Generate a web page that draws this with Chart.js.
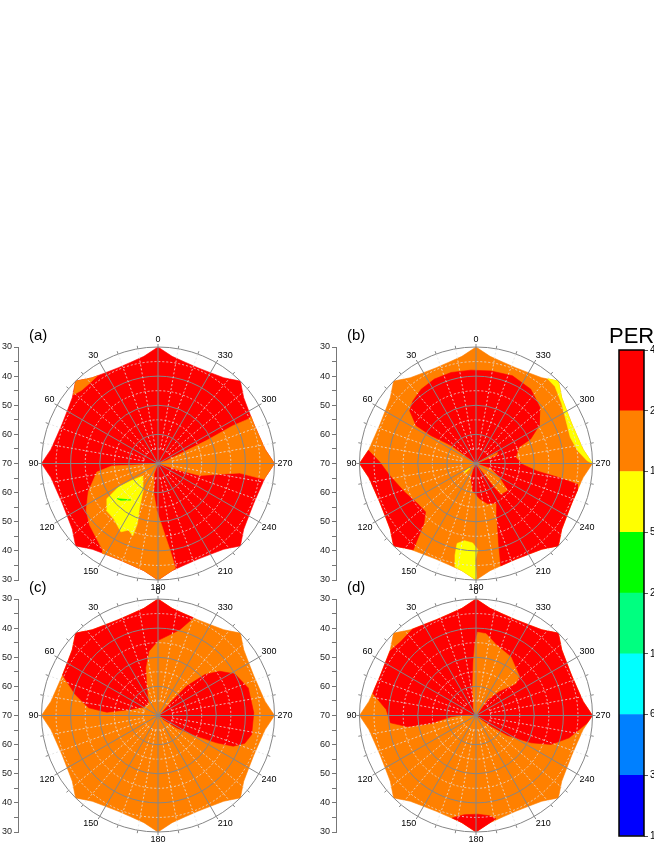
<!DOCTYPE html>
<html>
<head>
<meta charset="utf-8">
<script src="https://cdn.jsdelivr.net/npm/chart.js@4.4.1/dist/chart.umd.min.js"></script>
<style>
  html, body { margin: 0; padding: 0; background: #fff; overflow: hidden; }
  body { width: 654px; height: 846px; position: relative; }
  canvas { position: absolute; }
</style>
</head>
<body>
<canvas id="panelA" width="298" height="282" style="left:0px;top:318px"></canvas>
<canvas id="panelB" width="298" height="282" style="left:318px;top:318px"></canvas>
<canvas id="panelC" width="298" height="282" style="left:0px;top:570px"></canvas>
<canvas id="panelD" width="298" height="282" style="left:318px;top:570px"></canvas>
<canvas id="colorBar" width="84" height="530" style="left:600px;top:316px"></canvas>
<script>
// colour levels, top of the colour bar first
var levelNames = ['red', 'orange', 'yellow', 'green', 'spring', 'cyan', 'azure', 'blue'];
var levelColors = ['#ff0000', '#ff8000', '#ffff00', '#00ff00', '#00ff80', '#00ffff', '#0080ff', '#0000ff'];
var levelTicks = ['400', '200', '100', '50', '25', '12.5', '6.25', '3.125', '1.5625'];

// polar axis: elevation 70 at the centre, 30 on the rim
var R_CENTER = 70, R_EDGE = 30;
var ringValues = [65, 55, 45, 35, 60, 50, 40, 30];
var spokeAngles = [0, 10, 20, 30, 40, 50, 60, 70, 80, 90, 100, 110, 120, 130, 140, 150, 160, 170,
  180, 190, 200, 210, 220, 230, 240, 250, 260, 270, 280, 290, 300, 310, 320, 330, 340, 350];
var angleLabels = [0, 30, 60, 90, 120, 150, 180, 210, 240, 270, 300, 330];

// outer edge of the data (azimuth, elevation)
var domainEdge = [
  [0, 30], [7.5, 32.9], [15, 34], [22.5, 34.4], [30, 34], [37.5, 32.9],
  [45, 30], [52.5, 32.9], [60, 34], [67.5, 34.4], [75, 34], [82.5, 32.9],
  [90, 30], [97.5, 32.9], [105, 34], [112.5, 34.4], [120, 34], [127.5, 32.9],
  [135, 30], [142.5, 32.9], [150, 34], [157.5, 34.4], [165, 34], [172.5, 32.9],
  [180, 30], [187.5, 32.9], [195, 34], [202.5, 34.4], [210, 34], [217.5, 32.9],
  [225, 30], [232.5, 32.9], [240, 34], [247.5, 34.4], [255, 34], [262.5, 32.9],
  [270, 30], [277.5, 32.9], [285, 34], [292.5, 34.4], [300, 34], [307.5, 32.9],
  [315, 30], [322.5, 32.9], [330, 34], [337.5, 34.4], [345, 34], [352.5, 32.9]
];

// (a)
var aOrangeNW = [[45, 30], [37.5, 32.9], [34.5, 33.4], [40, 33.8], [46, 33.7], [51, 32.6]];
var aOrangeE = [[0, 70], [289, 66.9], [293.7, 61.8], [295.1, 54.1], [295.3, 51.6], [296.8, 41.2], [296.2, 35.3], [297, 34.2],
  [292.5, 34.4], [285, 34], [277.5, 32.9], [270, 30], [262.5, 32.9], [261.5, 33.2],
  [263.3, 41.8], [259.4, 49.6], [254.1, 55.1], [252.4, 62.1]];
var aOrangeSW = [[0, 70], [95, 66.1], [93, 54.1], [98, 48.8], [112, 44.2], [123, 40.6], [132, 38.4], [147.4, 34.7],
  [148.5, 33.7], [150, 34], [157.5, 34.4], [165, 34], [172.5, 32.9], [180, 30], [187.5, 32.9], [189.5, 33.5],
  [187.9, 40], [184.6, 47], [178.4, 53.9], [170.2, 60.6], [158.8, 66.2]];
var aYellow = [[124.5, 48.7], [120.8, 54.2], [122.8, 59.3], [128.9, 63.1], [151.9, 58.9], [157.6, 53.2],
  [161.1, 48.2], [160.8, 43.7], [156.1, 45], [151.5, 43.3], [141.1, 45.7], [132.1, 46]];
var aGreen = [[130.7, 51.5], [143.3, 54.4], [134.5, 52]];

// (b)
var bRedW = [[83, 32.8], [90, 30], [97.5, 32.9], [105, 34], [112.5, 34.4], [120, 34], [127.5, 32.9], [135, 30],
  [142.5, 32.9], [144, 33.4], [142.5, 36.8], [139.1, 42.7], [133.8, 46], [124.7, 45.7], [111.8, 43.6],
  [97.9, 40.1], [89.2, 37]];
var bRedMain = [[0, 70], [52.8, 66.4], [54.2, 59.5], [58.1, 51.9], [57.7, 45.7], [51.5, 40.9], [45.2, 39.5],
  [36.4, 38.3], [26.2, 37.7], [15.3, 37.6], [3.1, 37.9], [350.8, 37.8], [337.4, 37.4], [323.6, 38.3],
  [311.2, 40.8], [301, 44.7], [294.2, 49.4], [290.7, 54.2], [279, 56.2], [268.8, 54], [262.9, 48.8],
  [260.5, 41.7], [258.5, 34.4], [255, 34], [247.5, 34.4], [240, 34], [232.5, 32.9], [225, 30],
  [217.5, 32.9], [210, 34], [202.5, 34.4], [195, 34], [193.6, 33.8], [195.8, 41.5], [201.4, 50.3],
  [207.5, 54.7], [196.1, 55.6], [185.4, 57.9], [173, 60.7], [162, 64.5], [156.4, 68]];
var bOrangeNotch = [[0, 70], [250.4, 64.6], [239.6, 60.8], [229.5, 55.8], [218.9, 56.4], [217.8, 59.8], [218.9, 65.5]];
var bOrangeWedge = [[0, 70], [297, 61.7], [292.5, 62.3]];
var bYellowE = [[320, 31.9], [315, 30], [307.5, 32.9], [300, 34], [292.5, 34.4], [285, 34], [277.5, 32.9], [270, 30],
  [271.5, 31.9], [277.2, 34.8], [285.5, 36.4], [295.1, 35.8], [305, 34.1], [314.3, 32.1]];
var bYellowS = [[168.4, 33.8], [167.1, 37.7], [166.7, 41.8], [171.5, 43.2], [177.6, 42.7], [181.1, 40.5],
  [179.6, 36.8], [180.3, 31], [180, 30], [172.5, 32.9]];
var bYellowFleck = [[126, 65], [123, 67.3], [128, 67.4], [131, 65.3]];

// (c)
var cRedNW = [[0, 30], [7.5, 32.9], [15, 34], [22.5, 34.4], [30, 34], [37.5, 32.9], [45, 30], [52.5, 32.9],
  [60, 34], [67, 34.4], [75.8, 40.7], [83.7, 46], [86.3, 52.4], [77.9, 60.2], [60.4, 64.2], [38.9, 64.7],
  [21.1, 59.2], [14.5, 53.1], [8, 47.7], [359.7, 44.2], [345.7, 39.6], [340, 34.3], [345, 34], [352.5, 32.9]];
var cRedE = [[270, 69.5], [316.4, 63.2], [315.7, 55.9], [311.1, 48.6], [305.6, 43.9], [298.4, 40], [287, 37.6],
  [271.6, 37.1], [258.5, 37.2], [252.2, 38.7], [247.8, 42.1], [245, 47.8], [241.9, 55], [236.5, 62.3], [233.1, 67.7]];

// (d)
var dRed = [[0, 70], [83.2, 67.1], [93.1, 61.4], [100.1, 54.3], [99.4, 46.3], [94.9, 40.5], [86.2, 39.1], [78, 33.8],
  [75, 34], [67.5, 34.4], [60, 34], [53, 33.1], [45.5, 33.8], [36.5, 33.2], [30, 34], [22.5, 34.4],
  [15, 34], [7.5, 32.9], [0, 30], [352.5, 32.9], [345, 34], [337.5, 34.4], [330, 34], [322.5, 32.9], [315, 30],
  [307.5, 32.9], [300, 34], [292.5, 34.4], [285, 34], [277.5, 32.9], [270, 30], [266, 31.8], [256.5, 37.1],
  [248.9, 42.4], [243.6, 48.9], [237.7, 57.2], [234.6, 63.7]];
var dOrangeTongue = [[0, 70], [28.3, 68.3], [7.3, 61], [2.9, 51.9], [0.8, 45.1], [358.9, 41.4], [353, 41.7],
  [344.3, 44.7], [329.2, 46.6], [312.2, 49.9], [308.7, 52.4], [316.2, 58.4], [323.9, 63.2], [322.4, 68.1]];
var dRedS = [[167, 33.9], [173.3, 35.7], [181, 36.1], [187.5, 35.3], [191, 33.9], [187.5, 32.9], [180, 30], [172.5, 32.9]];

var layersA = [['red', domainEdge], ['orange', aOrangeNW], ['orange', aOrangeE], ['orange', aOrangeSW],
  ['yellow', aYellow], ['green', aGreen]];
var layersB = [['orange', domainEdge], ['red', bRedW], ['red', bRedMain], ['orange', bOrangeNotch],
  ['orange', bOrangeWedge], ['yellow', bYellowE], ['yellow', bYellowS], ['yellow', bYellowFleck]];
var layersC = [['orange', domainEdge], ['red', cRedNW], ['red', cRedE]];
var layersD = [['orange', domainEdge], ['red', dRed], ['orange', dOrangeTongue], ['red', dRedS]];

// layout
var FONT = '"Liberation Sans", Arial, Helvetica, sans-serif';
var AXIS_W = 18, PLOT_W = 280, PLOT_H = 233;
var HALF_X = (R_CENTER - R_EDGE) * PLOT_W / PLOT_H;
var GRID_DARK = '#868686', GRID_LIGHT = '#e2e2e2';

function colorOf(name) {
  return levelColors[levelNames.indexOf(name)];
}

function toXY(p) {
  var a = p[0] * Math.PI / 180, r = R_CENTER - p[1];
  return { x: -r * Math.sin(a), y: r * Math.cos(a) };
}

var polarGrid = {
  id: 'polarGrid',
  afterDatasetsDraw: function (chart) {
    var ctx = chart.ctx, sx = chart.scales.x, sy = chart.scales.y;
    var cx = sx.getPixelForValue(0), cy = sy.getPixelForValue(0);
    var rad = function (el) { return sx.getPixelForValue(R_CENTER - el) - cx; };
    var outer = rad(R_EDGE);
    ctx.save();
    ringValues.forEach(function (el) {
      var major = el % 10 === 0;
      ctx.lineWidth = major ? 1 : 0.8;
      ctx.setLineDash(major ? [] : [2, 2]);
      ctx.strokeStyle = major ? GRID_DARK : GRID_LIGHT;
      ctx.beginPath();
      ctx.arc(cx, cy, rad(el), 0, Math.PI * 2);
      ctx.stroke();
    });
    spokeAngles.forEach(function (az) {
      var a = az * Math.PI / 180, s = Math.sin(a), c = Math.cos(a);
      var major = az % 30 === 0;
      var r0 = major ? 0 : rad(65);
      ctx.lineWidth = major ? 1 : 0.8;
      ctx.setLineDash(major ? [] : [2, 2]);
      ctx.strokeStyle = major ? GRID_DARK : GRID_LIGHT;
      ctx.beginPath();
      ctx.moveTo(cx - r0 * s, cy - r0 * c);
      ctx.lineTo(cx - outer * s, cy - outer * c);
      ctx.stroke();
      ctx.lineWidth = 1;
      ctx.setLineDash([]);
      ctx.strokeStyle = GRID_DARK;
      ctx.beginPath();
      ctx.moveTo(cx - outer * s, cy - outer * c);
      ctx.lineTo(cx - (outer + 3) * s, cy - (outer + 3) * c);
      ctx.stroke();
    });
    ctx.restore();
  },
  afterDraw: function (chart, args, opts) {
    var ctx = chart.ctx, sx = chart.scales.x, sy = chart.scales.y;
    var cx = sx.getPixelForValue(0), cy = sy.getPixelForValue(0);
    var d = sx.getPixelForValue(R_CENTER - R_EDGE) - cx + 3;
    ctx.save();
    ctx.fillStyle = '#000';
    ctx.font = '9px ' + FONT;
    angleLabels.forEach(function (az) {
      var a = az * Math.PI / 180, s = Math.sin(a), c = Math.cos(a);
      ctx.textAlign = Math.abs(s) < 0.01 ? 'center' : (s > 0 ? 'right' : 'left');
      ctx.textBaseline = Math.abs(c) < 0.01 ? 'middle' : (c > 0 ? 'bottom' : 'top');
      ctx.fillText(String(az), cx - d * s, cy - d * c);
    });
    ctx.font = '15px ' + FONT;
    ctx.textAlign = 'left';
    ctx.textBaseline = 'middle';
    ctx.fillText(opts.tag, chart.chartArea.left + 11, chart.chartArea.top - 11);
    ctx.restore();
  }
};

function makePanel(id, tag, layers) {
  return new Chart(document.getElementById(id), {
    type: 'line',
    data: {
      datasets: layers.map(function (layer, i) {
        var pts = layer[1].concat([layer[1][0]]).map(toXY);
        return {
          data: pts,
          fill: 'shape',
          backgroundColor: colorOf(layer[0]),
          borderColor: colorOf(layer[0]),
          borderWidth: 0.6,
          pointRadius: 0,
          tension: 0,
          order: -i
        };
      })
    },
    options: {
      responsive: false,
      animation: false,
      devicePixelRatio: 1,
      layout: { padding: { top: 29, bottom: 20, left: 0, right: 0 } },
      plugins: {
        legend: { display: false },
        tooltip: { enabled: false },
        polarGrid: { tag: tag }
      },
      scales: {
        x: { type: 'linear', display: false, min: -HALF_X, max: HALF_X },
        y: {
          min: -(R_CENTER - R_EDGE), max: R_CENTER - R_EDGE,
          afterFit: function (s) { s.width = AXIS_W; },
          ticks: {
            stepSize: 5, autoSkip: false, padding: 2, color: '#222',
            font: { size: 9, family: FONT },
            callback: function (v) { return v % 10 === 0 ? String(R_CENTER - Math.abs(v)) : ''; }
          },
          grid: { drawOnChartArea: false, tickLength: 4, color: '#777', tickColor: '#777' },
          border: { display: true, color: '#777' }
        }
      }
    },
    plugins: [polarGrid]
  });
}

makePanel('panelA', '(a)', layersA);
makePanel('panelB', '(b)', layersB);
makePanel('panelC', '(c)', layersC);
makePanel('panelD', '(d)', layersD);

// COLOUR BAR ################################################################

var barFrame = {
  id: 'barFrame',
  afterDraw: function (chart) {
    var ctx = chart.ctx, a = chart.chartArea;
    ctx.save();
    ctx.strokeStyle = '#000';
    ctx.lineWidth = 1.5;
    ctx.strokeRect(a.left, a.top, a.right - a.left, a.bottom - a.top);
    ctx.fillStyle = '#000';
    ctx.font = '22px ' + FONT;
    ctx.textAlign = 'left';
    ctx.textBaseline = 'alphabetic';
    ctx.fillText('PER', a.left - 10, a.top - 7);
    ctx.restore();
  }
};

new Chart(document.getElementById('colorBar'), {
  type: 'bar',
  data: {
    labels: ['PER'],
    datasets: levelColors.slice().reverse().map(function (c) {
      return { data: [1], backgroundColor: c, borderWidth: 0, barPercentage: 1, categoryPercentage: 1 };
    })
  },
  options: {
    responsive: false,
    animation: false,
    devicePixelRatio: 1,
    layout: { padding: { top: 34, bottom: 10, left: 19, right: 0 } },
    plugins: { legend: { display: false }, tooltip: { enabled: false } },
    scales: {
      x: { display: false, stacked: true },
      y: {
        stacked: true, position: 'right', min: 0, max: levelColors.length,
        afterFit: function (s) { s.width = 40; },
        ticks: {
          stepSize: 1, autoSkip: false, padding: 2, color: '#000',
          font: { size: 10, family: FONT },
          callback: function (v) { return levelTicks[levelTicks.length - 1 - v]; }
        },
        grid: { drawOnChartArea: false, tickLength: 4, tickColor: '#555' },
        border: { display: false }
      }
    }
  },
  plugins: [barFrame]
});
</script>
</body>
</html>
